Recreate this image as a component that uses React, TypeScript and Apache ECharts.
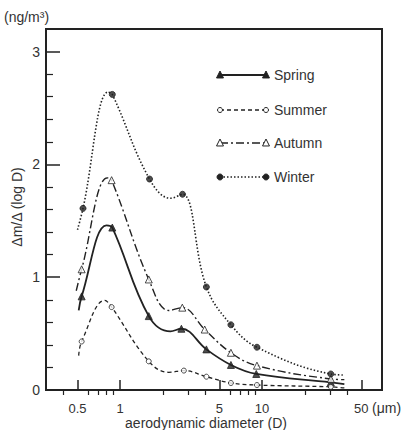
import React, { useEffect, useRef } from "react";
import * as echarts from "echarts";

// Tick values
const xMajorTicks = [0.5, 1, 5, 10, 50];
const xMinorTicks = [0.4, 0.6, 0.7, 0.8, 0.9, 2, 3, 4, 6, 7, 8, 9, 20, 30, 40];
const yMajorTicks = [0, 1, 2, 3];
const yMinorTicks = [0.2, 0.4, 0.6, 0.8, 1.2, 1.4, 1.6, 1.8, 2.2, 2.4, 2.6, 2.8];

// Spring (filled triangles, solid)
const springMarkers: [number, number][] = [
  [0.535, 0.83], [0.88, 1.44], [1.59, 0.655], [2.7, 0.543], [4.05, 0.36], [6.03, 0.222], [9.1, 0.142], [30.5, 0.068],
];
const springCurve: [number, number][] = [[0.51, 0.705], [0.8, 1.46], [2.26, 0.52], [38, 0.053]];

// Summer (open circles, dashed)
const summerMarkers: [number, number][] = [
  [0.535, 0.43], [0.87, 0.735], [1.59, 0.254], [2.81, 0.172], [4.05, 0.118], [6.03, 0.062], [9.2, 0.044], [30.5, 0.028],
];
const summerCurve: [number, number][] = [[0.51, 0.305], [0.78, 0.795], [2.2, 0.157], [38, 0.018]];

// Autumn (open triangles, dash-dot)
const autumnMarkers: [number, number][] = [
  [0.535, 1.07], [0.87, 1.86], [1.59, 0.98], [2.74, 0.73], [3.94, 0.536], [6.03, 0.33], [9.2, 0.216], [30.5, 0.098],
];
const autumnCurve: [number, number][] = [[0.49, 0.88], [0.81, 1.88], [2.2, 0.705], [38, 0.092]];

// Winter (filled circles, dotted)
const winterMarkers: [number, number][] = [
  [0.547, 1.61], [0.88, 2.62], [1.61, 1.87], [2.75, 1.735], [4.05, 0.913], [6.03, 0.578], [9.2, 0.379], [30.5, 0.142],
];
const winterCurve: [number, number][] = [[0.5, 1.42], [0.82, 2.64], [2.26, 1.7], [38, 0.133]];

const INK = "#222";
const TXT = "#333";
const FONT = "'Liberation Sans', Arial, sans-serif";

type Season = {
  name: string;
  markers: [number, number][];
  curve: [number, number][];
  dash: number[] | "solid";
  width: number;
  symbol: string;
  size: number;
  filled: boolean;
  legendY: number;
};

const seasons: Season[] = [
  { name: "Spring", markers: springMarkers, curve: springCurve, dash: "solid", width: 1.8, symbol: "triangle", size: 7, filled: true, legendY: 75 },
  { name: "Summer", markers: summerMarkers, curve: summerCurve, dash: [4, 3], width: 1.3, symbol: "circle", size: 5, filled: false, legendY: 110 },
  { name: "Autumn", markers: autumnMarkers, curve: autumnCurve, dash: [8, 3, 2, 3], width: 1.4, symbol: "triangle", size: 7, filled: false, legendY: 143 },
  { name: "Winter", markers: winterMarkers, curve: winterCurve, dash: [1.5, 2], width: 1.6, symbol: "circle", size: 6, filled: true, legendY: 177 },
];

function legendMarker(s: Season, cx: number, cy: number): any {
  const style = { fill: s.filled ? INK : "#fff", stroke: INK, lineWidth: 1 };
  if (s.symbol === "circle") {
    return { type: "circle", shape: { cx, cy, r: s.size / 2 }, style, z: 10 };
  }
  const h = s.size * 0.85;
  return {
    type: "polygon",
    shape: { points: [[cx, cy - h / 2 - 1], [cx - h / 2 - 0.5, cy + h / 2], [cx + h / 2 + 0.5, cy + h / 2]] },
    style,
    z: 10,
  };
}

export default function App() {
  const ref = useRef<HTMLDivElement>(null);
  useEffect(() => {
    if (!ref.current) return;
    const chart = echarts.init(ref.current, null, { renderer: "svg" });

    const series: any[] = [];
    seasons.forEach((s) => {
      const curve = [...s.markers, ...s.curve].sort((a, b) => a[0] - b[0]);
      series.push({
        type: "line",
        name: s.name,
        data: curve,
        smooth: 0.4,
        symbol: "none",
        xAxisIndex: 0,
        yAxisIndex: 0,
        lineStyle: { color: INK, width: s.width, type: s.dash },
        z: 3,
      });
      series.push({
        type: "scatter",
        name: s.name + " pts",
        data: s.markers,
        symbol: s.symbol,
        symbolSize: s.size,
        xAxisIndex: 0,
        yAxisIndex: 0,
        itemStyle: { color: s.filled ? INK : "#fff", borderColor: INK, borderWidth: 1 },
        z: 5,
      });
    });

    const graphic: any[] = [
      { type: "text", x: 4, y: 17, style: { text: "(ng/m³)", fontSize: 14, fontFamily: FONT, fill: TXT, verticalAlign: "middle", align: "left" } },
      { type: "text", x: 17, y: 207, rotation: Math.PI / 2, style: { text: "Δm/Δ (log D)", fontSize: 14, fontFamily: FONT, fill: TXT, verticalAlign: "middle", align: "center" } },
      { type: "text", x: 206, y: 423, style: { text: "aerodynamic diameter (D)", fontSize: 14, fontFamily: FONT, fill: TXT, verticalAlign: "middle", align: "center" } },
      { type: "text", x: 372, y: 408, style: { text: "(μm)", fontSize: 14, fontFamily: FONT, fill: TXT, verticalAlign: "middle", align: "left" } },
    ];
    seasons.forEach((s) => {
      const y = s.legendY;
      graphic.push({
        type: "line",
        shape: { x1: 220, y1: y, x2: 266, y2: y },
        style: { stroke: INK, lineWidth: s.width, lineDash: s.dash === "solid" ? null : s.dash },
        z: 9,
      });
      graphic.push(legendMarker(s, 220, y));
      graphic.push(legendMarker(s, 266, y));
      graphic.push({ type: "text", x: 274, y, style: { text: s.name, fontSize: 14, fontFamily: FONT, fill: TXT, verticalAlign: "middle", align: "left" } });
    });

    chart.setOption({
      animation: false,
      backgroundColor: "#fff",
      grid: { left: 46, right: 25, top: 29, bottom: 40, show: true, borderColor: INK, borderWidth: 2, backgroundColor: "transparent" },
      xAxis: [
        {
          type: "log",
          logBase: 10,
          min: 0.3,
          max: 70,
          axisLine: { show: true, lineStyle: { color: INK, width: 2 } },
          axisTick: { show: true, inside: true, length: 10, customValues: xMajorTicks, lineStyle: { color: INK, width: 1.5 } },
          axisLabel: {
            show: true,
            customValues: xMajorTicks,
            margin: 12,
            fontSize: 13,
            fontFamily: FONT,
            color: TXT,
            formatter: (v: number) => String(Number(v.toPrecision(3))),
          },
          splitLine: { show: false },
          minorTick: { show: false },
        },
        {
          type: "log",
          logBase: 10,
          min: 0.3,
          max: 70,
          axisLine: { show: false },
          axisTick: { show: true, inside: true, length: 5, customValues: xMinorTicks, lineStyle: { color: INK, width: 1.2 } },
          axisLabel: { show: false },
          splitLine: { show: false },
        },
      ],
      yAxis: [
        {
          type: "value",
          min: 0,
          max: 3.2,
          axisLine: { show: true, lineStyle: { color: INK, width: 2 } },
          axisTick: { show: true, inside: true, length: 14, customValues: yMajorTicks, lineStyle: { color: INK, width: 1.5 } },
          axisLabel: { show: true, customValues: yMajorTicks, margin: 6, fontSize: 14, fontFamily: FONT, color: TXT },
          splitLine: { show: false },
        },
        {
          type: "value",
          min: 0,
          max: 3.2,
          position: "left",
          axisLine: { show: false },
          axisTick: { show: true, inside: true, length: 7, customValues: yMinorTicks, lineStyle: { color: INK, width: 1.2 } },
          axisLabel: { show: false },
          splitLine: { show: false },
        },
      ],
      graphic,
      series,
    });
    return () => chart.dispose();
  }, []);
  return <div ref={ref} style={{ position: "fixed", left: 0, top: 0, width: 407, height: 430 }} />;
}
